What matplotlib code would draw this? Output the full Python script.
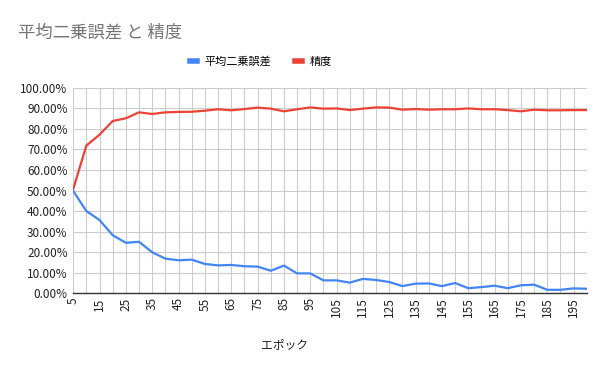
import numpy as np
import matplotlib.pyplot as plt
from matplotlib.ticker import PercentFormatter

plt.rcParams['font.family'] = ['Noto Sans CJK JP', 'DejaVu Sans']

# ---------------* data *----------------------
epochs = list(range(5, 205, 5))
mse = [49.8, 40.0, 35.6, 28.2, 24.5, 25.0, 19.9, 16.8, 16.0, 16.3,
       14.2, 13.5, 13.7, 13.1, 12.9, 10.9, 13.4, 9.6, 9.6, 6.2,
       6.2, 5.1, 6.9, 6.4, 5.4, 3.4, 4.6, 4.7, 3.4, 4.9,
       2.4, 2.9, 3.6, 2.4, 3.8, 4.1, 1.6, 1.6, 2.3, 2.1]
acc = [50.7, 71.9, 77.2, 83.9, 85.2, 88.1, 87.3, 88.1, 88.3, 88.4,
       88.9, 89.6, 89.1, 89.7, 90.4, 89.9, 88.6, 89.6, 90.5, 89.9,
       90.0, 89.2, 89.9, 90.5, 90.4, 89.4, 89.7, 89.4, 89.6, 89.6,
       90.0, 89.6, 89.6, 89.2, 88.6, 89.4, 89.1, 89.1, 89.2, 89.2]
tick_labels = [str(e) for e in range(5, 200, 10)]

# ---------------* plot *----------------------
fig = plt.figure(figsize=(6, 3.71), dpi=100)
ax = fig.add_axes([0.122, 0.210, 0.856, 0.553])

ax.plot(epochs, mse, color='#4285F4', lw=1.6, label='平均二乗誤差')
ax.plot(epochs, acc, color='#EA4335', lw=1.6, label='精度')

ax.set_xlim(5, 200)
ax.set_ylim(0, 100)
ax.set_xticks(epochs)
ax.set_xticklabels([str(e) if str(e) in tick_labels else '' for e in epochs],
                   rotation=90, fontsize=8.5, color='#222222')
ax.set_yticks(np.arange(0, 101, 10))
ax.yaxis.set_major_formatter(PercentFormatter(decimals=2))
ax.tick_params(axis='y', labelsize=8.5, colors='#222222', length=0, pad=4)
ax.tick_params(axis='x', length=0, pad=3)

ax.grid(True, color='#cccccc', lw=0.8)
ax.set_axisbelow(True)
for s in ['top', 'right', 'left']:
    ax.spines[s].set_visible(False)
ax.spines['bottom'].set_color('#333333')
ax.spines['bottom'].set_linewidth(1.0)
ax.spines['bottom'].set_zorder(5)

fig.text(0.03, 0.913, '平均二乗誤差 と 精度', fontsize=12.5, color='#757575',
         va='center', ha='left')
fig.text(0.475, 0.07, 'エポック', fontsize=8.5, color='#222222',
         ha='center', va='center')

fig.legend(loc='center', bbox_to_anchor=(0.435, 0.835), ncol=2, frameon=False,
           fontsize=8, handlelength=0.6, handletextpad=0.7, columnspacing=2.2)
for line in fig.legends[0].get_lines():
    line.set_linewidth(4)

fig.savefig('out.png', dpi=100)
